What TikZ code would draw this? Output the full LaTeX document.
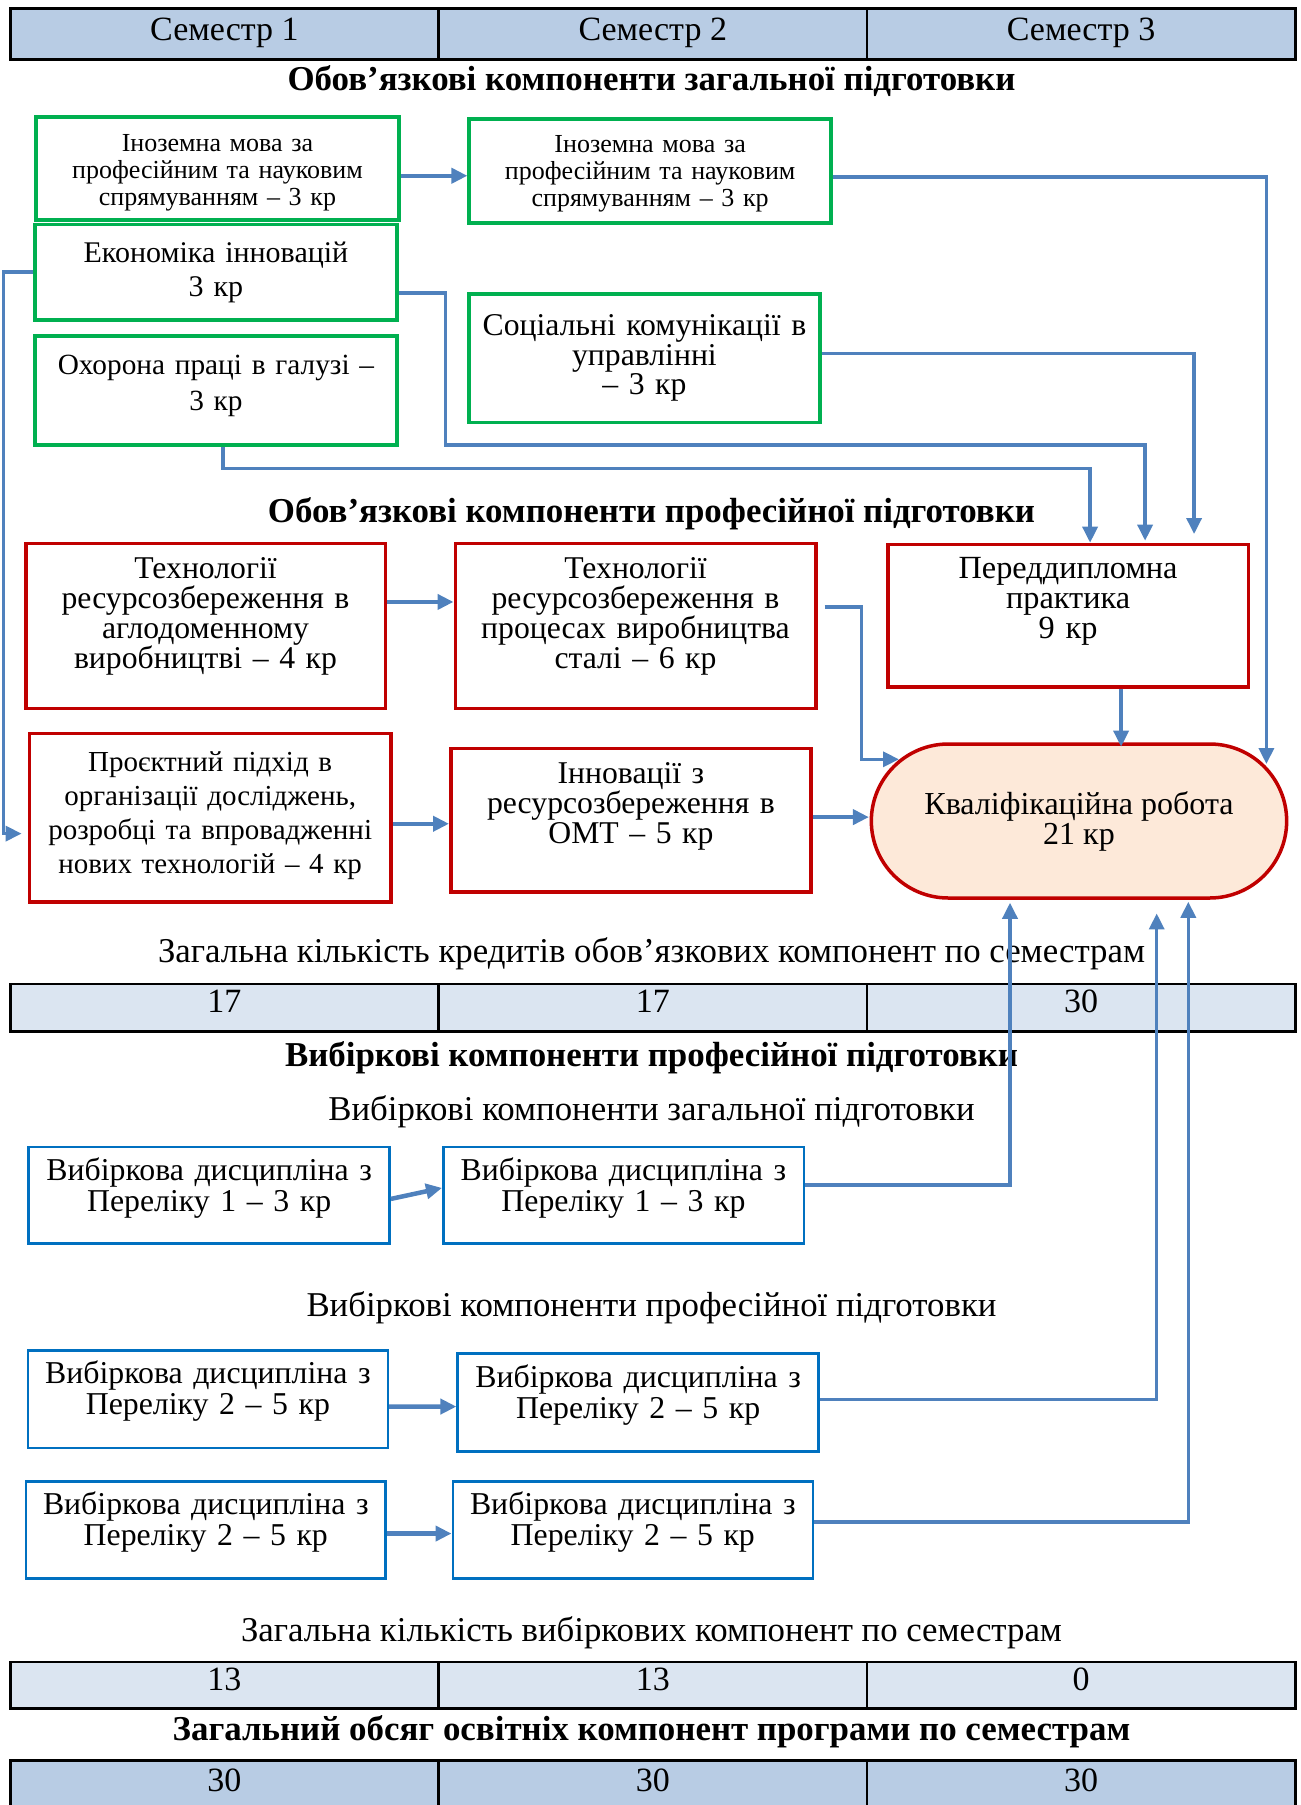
\documentclass[tikz,border=0pt]{standalone}
\usepackage{fontspec}
\setmainfont{Liberation Serif}
\definecolor{linkblue}{HTML}{4F81BD}
\definecolor{headblue}{HTML}{B8CCE4}
\definecolor{paleblue}{HTML}{DBE5F1}
\definecolor{boxgreen}{HTML}{00B050}
\definecolor{boxred}{HTML}{C00000}
\definecolor{boxblue}{HTML}{0070C0}
\definecolor{peach}{HTML}{FDE9D9}
\usetikzlibrary{positioning, arrows.meta, shapes.misc}

\begin{document}
\begin{tikzpicture}[x = 1pt, y = -1pt,
    cell/.style = {draw, line width = 2.5pt, minimum width = 428.33pt, inner sep = 0pt, anchor = north west, font = \fontsize{34}{34}\selectfont},
    heading/.style = {anchor = base, font = \fontsize{34.8}{34}\selectfont},
    headbold/.style = {anchor = base, font = \fontsize{34.9}{34}\selectfont\bfseries},
    box/.style = {inner xsep = 0pt, inner ysep = 0pt, align = center, anchor = north west},
    gbox/.style = {box, draw = boxgreen, line width = 3.5pt},
    rbox/.style = {box, draw = boxred, line width = 3.5pt, font = \fontsize{31.7}{30}\selectfont},
    selbox/.style = {box, draw = boxblue, line width = 2.5pt, font = \fontsize{31.8}{31}\selectfont},
    link/.style = {draw = linkblue, line width = 3.5pt, -{Triangle[length = 16pt, width = 15pt]}},
    hop/.style = {link, line width = 4.5pt}]
  \useasboundingbox (0, 0) rectangle (1301, 1805);

  % semesters
  \foreach \i in {1, 2, 3}
    \node[cell, fill = headblue, text height = 32.3pt, text depth = 18.7pt] (sem\i) at ({9 + 428.33*(\i-1)}, 7) {Семестр \i};

  \node[headbold] (genhead) at (651.5, 90.7) {Обов’язкові компоненти загальної підготовки};

  \node[gbox, font = \fontsize{26}{27}\selectfont, text width = 362.6pt, text height = 34.3pt, text depth = 68.7pt] (foreign1) at (34.4, 115) {Іноземна мова за\\ професійним та науковим\\ спрямуванням – 3 кр};
  \node[gbox, font = \fontsize{26}{27}\selectfont, text width = 362pt, text height = 34pt, text depth = 70pt] (foreign2) at (467.4, 117) {Іноземна мова за\\ професійним та науковим\\ спрямуванням – 3 кр};
  \node[gbox, font = \fontsize{30}{34}\selectfont, text width = 361.6pt, text height = 38.3pt, text depth = 57pt] (econ) at (33.4, 222.7) {Економіка інновацій\\ 3 кр};
  \node[gbox, font = \fontsize{29.3}{36}\selectfont, text width = 361.6pt, text height = 38.7pt, text depth = 70.3pt] (safety) at (33.4, 334) {Охорона праці в галузі –\\ 3 кр};
  \node[gbox, font = \fontsize{31.7}{29.5}\selectfont, text width = 350.6pt, text height = 42pt, text depth = 86.7pt] (social) at (467.4, 292) {Соціальні комунікації в\\ управлінні\\ – 3 кр};

  \node[headbold] (profhead) at (651.5, 522) {Обов’язкові компоненти професійної підготовки};

  \node[rbox, text width = 359.5pt, text height = 35pt, text depth = 130pt] (rtech) at (24, 541.7) {Технології\\ ресурсозбереження в\\ аглодоменному\\ виробництві – 4 кр};
  \node[rbox, text width = 360.5pt, text height = 35pt, text depth = 130pt] (rsteel) at (453.5, 541.7) {Технології\\ ресурсозбереження в\\ процесах виробництва\\ сталі – 6 кр};
  \node[rbox, font = \fontsize{32.3}{30}\selectfont, text width = 360.7pt, text height = 34pt, text depth = 108.5pt] (rpre) at (886, 542.7) {Переддипломна\\ практика\\ 9 кр};
  \node[rbox, font = \fontsize{29}{34}\selectfont, text width = 361.6pt, text height = 38.3pt, text depth = 130pt] (rproj) at (27.6, 731.7) {Проєктний підхід в\\ організації досліджень,\\ розробці та впровадженні\\ нових технологій – 4 кр};
  \node[rbox, text width = 360.4pt, text height = 35pt, text depth = 108.3pt] (rinno) at (449, 746.7) {Інновації з\\ ресурсозбереження в\\ ОМТ – 5 кр};
  \node[rounded rectangle, draw = boxred, fill = peach, line width = 3.5pt, minimum width = 422pt, minimum height = 154pt, align = center, font = \fontsize{32}{30}\selectfont] (qual) at (1079, 821) {Кваліфікаційна робота\\ 21 кр};

  \node[heading] (obligsum) at (651.5, 962.7) {Загальна кількість кредитів обов’язкових компонент по семестрам};
  \foreach \n [count = \i] in {17, 17, 30}
    \node[cell, fill = paleblue, text height = 29pt, text depth = 18.3pt] (oblig\i) at ({9 + 428.33*(\i-1)}, 982.7) {\n};

  \node[headbold] (selhead) at (651.5, 1066.7) {Вибіркові компоненти професійної підготовки};
  \node[heading] (selgen) at (651.5, 1120) {Вибіркові компоненти загальної підготовки};

  \node[selbox, text width = 361pt, text height = 33.3pt, text depth = 63pt] (sel1a) at (27.4, 1145.7) {Вибіркова дисципліна з\\ Переліку 1 – 3 кр};
  \node[selbox, text width = 360.5pt, text height = 33.3pt, text depth = 63pt] (sel1b) at (442, 1145.7) {Вибіркова дисципліна з\\ Переліку 1 – 3 кр};

  \node[heading] (selprof) at (651.5, 1316.7) {Вибіркові компоненти професійної підготовки};

  \node[selbox, text width = 360.1pt, text height = 33.4pt, text depth = 64pt] (sel2a) at (26.6, 1349.3) {Вибіркова дисципліна з\\ Переліку 2 – 5 кр};
  \node[selbox, text width = 361pt, text height = 34.4pt, text depth = 63.3pt] (sel2b) at (456.4, 1352.3) {Вибіркова дисципліна з\\ Переліку 2 – 5 кр};
  \node[selbox, text width = 359.3pt, text height = 33.4pt, text depth = 63.6pt] (sel3a) at (24.9, 1480.3) {Вибіркова дисципліна з\\ Переліку 2 – 5 кр};
  \node[selbox, text width = 360.1pt, text height = 33.4pt, text depth = 63.6pt] (sel3b) at (451.5, 1480.3) {Вибіркова дисципліна з\\ Переліку 2 – 5 кр};

  \node[heading] (electsum) at (651.5, 1641.7) {Загальна кількість вибіркових компонент по семестрам};
  \foreach \n [count = \i] in {13, 13, 0}
    \node[cell, fill = paleblue, text height = 28.6pt, text depth = 18pt] (elect\i) at ({9 + 428.33*(\i-1)}, 1660.7) {\n};

  \node[headbold] (totalhead) at (651.5, 1740.7) {Загальний обсяг освітніх компонент програми по семестрам};
  \foreach \n [count = \i] in {30, 30, 30}
    \node[cell, fill = headblue, text height = 31pt, text depth = 19pt] (total\i) at ({9 + 428.33*(\i-1)}, 1759) {\n};

  % links
  \draw[hop] ([yshift = -7.5pt]foreign1.east) -- ([yshift = -5pt]foreign2.west);
  \draw[link] ([yshift = -6pt]foreign2.east) -| ([xshift = 187.4pt, yshift = 57pt]qual.center);
  \draw[link] ([yshift = 4.6pt]social.east) -| ([xshift = 126pt, yshift = 8.7pt]rpre.north);
  \draw[link] ([yshift = -21pt]econ.east) -- ++(47, 0) -- ++(0, 152) -| ([xshift = 77pt, yshift = 2pt]rpre.north);
  \draw[link] ([xshift = 7pt]safety.south) -- ++(0, 22) -| ([xshift = 22pt]rpre.north);
  \draw[link, shorten > = 6pt] (econ.west) -- ++(-30, 0) |- ([yshift = -16pt]rproj.west);

  \draw[hop] ([yshift = 24pt]rtech.east) -- ([yshift = 24pt]rsteel.west);
  \draw[link] ([xshift = 7pt, yshift = 19pt]rsteel.east) -- ++(37, 0) |- ([xshift = -180pt, yshift = 61.7pt]qual.center);
  \draw[link] ([xshift = 53pt]rpre.south) -- ++(0, 58);
  \draw[hop] ([yshift = -6.15pt]rproj.east) -- ([yshift = -3.65pt]rinno.west);
  \draw[hop] ([yshift = 3pt]rinno.east) -- ++(56, 0);

  \draw[hop] ([yshift = -3.8pt]sel1a.east) -- ([yshift = 7.2pt]sel1b.west);
  \draw[link] ([yshift = 10pt]sel1b.east) -| ([xshift = -69pt, yshift = -3pt]qual.south);
  \draw[hop] ([yshift = -7.3pt]sel2a.east) -- ([yshift = -4.15pt]sel2b.west);
  \draw[link] ([yshift = 3pt]sel2b.east) -| ([xshift = 77.7pt, yshift = -13.7pt]qual.south);
  \draw[hop] ([yshift = -3.5pt]sel3a.east) -- ([yshift = -3.5pt]sel3b.west);
  \draw[link] ([yshift = 8pt]sel3b.east) -| ([xshift = 109.3pt, yshift = -2pt]qual.south);
\end{tikzpicture}
\end{document}
